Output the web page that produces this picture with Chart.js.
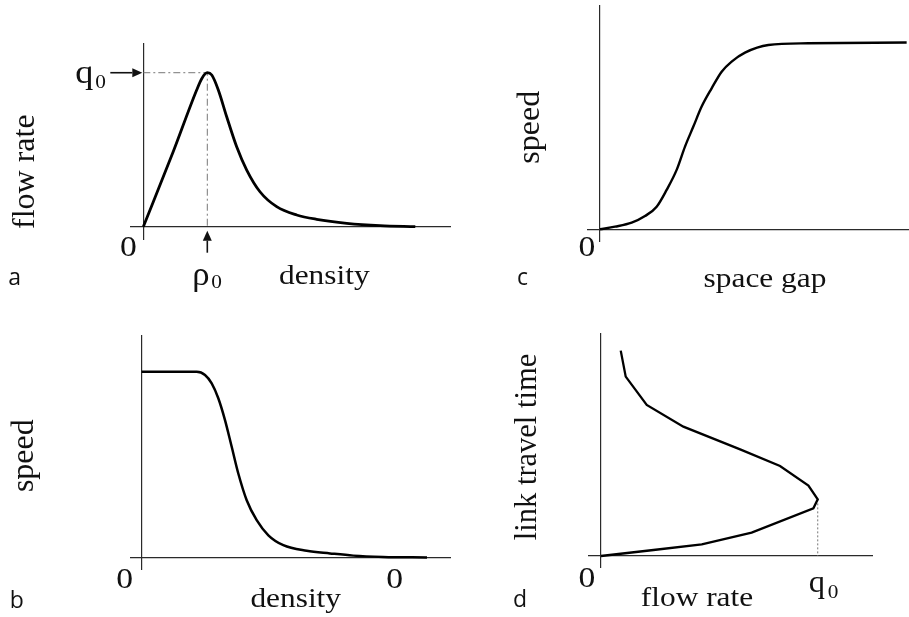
<!DOCTYPE html>
<html>
<head>
<meta charset="utf-8">
<script src="https://cdn.jsdelivr.net/npm/chart.js@4.4.0/dist/chart.umd.min.js"></script>
<style>
  body { margin: 0; background: #fff; }
  #wrap { position: relative; width: 909px; height: 617px; }
  #wrap canvas { position: absolute; left: 0; top: 0; }
</style>
</head>
<body>
<div id="wrap">
  <canvas id="panelA" width="909" height="617"></canvas>
  <canvas id="panelB" width="909" height="617"></canvas>
  <canvas id="panelC" width="909" height="617"></canvas>
  <canvas id="panelD" width="909" height="617"></canvas>
</div>
<script>
// a: flow rate vs density (rho0 = 1, q0 = 1)
const densityA = [0, 0.47, 0.834, 0.915, 1, 1.07, 1.172, 1.303, 1.459, 1.616, 1.823, 2.084, 2.397, 2.709, 3.18, 3.7, 4.25];
const flowA = [0, 0.49, 0.888, 0.963, 1, 0.985, 0.888, 0.714, 0.519, 0.368, 0.227, 0.13, 0.076, 0.048, 0.022, 0.0065, 0];
const rho0 = 1;
const q0 = 1;

// b: speed vs density
const densityB = [0, 1.1, 1.266, 1.4, 1.532, 1.666, 1.8, 1.932, 2.1, 2.3, 2.533, 2.832, 3.3, 3.766, 4.232, 4.826, 5.706];
const speedB = [0.996, 0.996, 0.979, 0.934, 0.854, 0.737, 0.594, 0.451, 0.308, 0.201, 0.12, 0.067, 0.037, 0.023, 0.011, 0.004, 0.001];

// c: speed vs space gap
const gapC = [0, 0.3, 0.633, 0.9, 1.133, 1.333, 1.533, 1.7, 1.867, 2.033, 2.233, 2.433, 2.633, 2.9, 3.367, 4.167, 6.133];
const speedC = [0, 0.014, 0.0355, 0.071, 0.121, 0.211, 0.318, 0.443, 0.55, 0.657, 0.755, 0.844, 0.898, 0.946, 0.987, 0.996, 1.0];

// d: link travel time vs flow rate (q0 = 1)
const flowD = [0, 0.242, 0.465, 0.695, 0.98, 1.0, 0.957, 0.826, 0.642, 0.38, 0.211, 0.114, 0.091];
const timeD = [0, 0.12, 0.233, 0.467, 0.953, 1.133, 1.407, 1.8, 2.133, 2.587, 3.02, 3.587, 4.107];
const q0D = 1;
const timeAtQ0D = 1.133;

const SERIF = "'Liberation Serif', 'Times New Roman', serif";
const SANS = "'Open Sans', 'Noto Sans', sans-serif";

function toPoints(xs, ys) {
  return xs.map((x, i) => ({ x: x, y: ys[i] }));
}

function drawText(ctx, str, x, y, item) {
  ctx.save();
  ctx.translate(x, y);
  ctx.fillStyle = "#111";
  if (item.rot) {
    ctx.rotate(-Math.PI / 2);
    ctx.font = (item.size || 32) + "px " + SERIF;
    ctx.textAlign = "center";
    ctx.textBaseline = "middle";
  } else if (item.sans) {
    ctx.font = "23px " + SANS;
    ctx.textAlign = "left";
    ctx.textBaseline = "alphabetic";
  } else {
    ctx.scale(item.sx || 1.12, 1);
    ctx.font = (item.size || 28) + "px " + SERIF;
    ctx.textAlign = item.align || "left";
    ctx.textBaseline = item.baseline || "alphabetic";
  }
  ctx.fillText(str, 0, 0);
  ctx.restore();
}

function drawArrow(ctx, x1, y1, x2, y2) {
  const ang = Math.atan2(y2 - y1, x2 - x1);
  const head = 10;
  const half = 4.5;
  const c = Math.cos(ang);
  const s = Math.sin(ang);
  ctx.save();
  ctx.strokeStyle = "#111";
  ctx.fillStyle = "#111";
  ctx.lineWidth = 1.6;
  ctx.beginPath();
  ctx.moveTo(x1, y1);
  ctx.lineTo(x2 - head * c, y2 - head * s);
  ctx.stroke();
  ctx.beginPath();
  ctx.moveTo(x2, y2);
  ctx.lineTo(x2 - head * c + half * s, y2 - head * s - half * c);
  ctx.lineTo(x2 - head * c - half * s, y2 - head * s + half * c);
  ctx.closePath();
  ctx.fill();
  ctx.restore();
}

function createPanel(canvasId, cfg) {
  const ctx = document.getElementById(canvasId).getContext("2d");

  const labelPlugin = {
    id: "panelLabels",
    afterDraw(chart) {
      const xs = chart.scales.x;
      const ys = chart.scales.y;
      const c = chart.ctx;
      (cfg.labels || []).forEach((item) => {
        const px = xs.getPixelForValue(item.at[0]) + item.dx;
        const py = ys.getPixelForValue(item.at[1]) + item.dy;
        drawText(c, item.t, px, py, item);
      });
      (cfg.arrows || []).forEach((a) => {
        const px = xs.getPixelForValue(a.at[0]);
        const py = ys.getPixelForValue(a.at[1]);
        drawArrow(c, px + a.x1, py + a.y1, px + a.x2, py + a.y2);
      });
    },
  };

  // only the zero line of each scale is kept, it acts as the axis
  const axisOpts = (range) => ({
    type: "linear",
    min: range[0],
    max: range[1],
    afterBuildTicks: (axis) => {
      axis.ticks = [{ value: 0 }];
    },
    ticks: { display: false },
    border: { display: false },
    grid: { color: "#2a2a2a", lineWidth: 1.2, drawTicks: false },
  });

  const datasets = [
    {
      data: cfg.curve,
      borderColor: "#000",
      borderWidth: cfg.width || 2.5,
      pointRadius: 0,
      fill: false,
      tension: 0,
      cubicInterpolationMode: cfg.smooth ? "monotone" : "default",
    },
  ];
  (cfg.guides || []).forEach((g) => {
    datasets.push({
      data: g.points,
      borderColor: "#777",
      borderWidth: 1,
      borderDash: g.dash,
      pointRadius: 0,
      fill: false,
      tension: 0,
    });
  });

  return new Chart(ctx, {
    type: "line",
    data: { datasets: datasets },
    options: {
      responsive: false,
      animation: false,
      layout: { padding: cfg.padding },
      plugins: { legend: { display: false }, tooltip: { enabled: false } },
      scales: { x: axisOpts(cfg.xRange), y: axisOpts(cfg.yRange) },
    },
    plugins: [labelPlugin],
  });
}

createPanel("panelA", {
  curve: toPoints(densityA, flowA),
  smooth: true,
  width: 2.8,
  padding: { left: 130, right: 458, top: 43, bottom: 377 },
  xRange: [-0.208, 4.808],
  yRange: [-0.0864, 1.193],
  guides: [
    { points: [{ x: 0, y: q0 }, { x: rho0, y: q0 }, { x: rho0, y: 0 }], dash: [7, 3, 2, 3] },
  ],
  labels: [
    { t: "0", at: [0, 0], dx: -15, dy: 21, size: 30, align: "center", baseline: "middle" },
    { t: "density", at: [0, 0], dx: 181, dy: 57, align: "center" },
    { t: "flow rate", at: [0, 0], dx: -118, dy: -55, rot: true },
    { t: "a", at: [0, 0], dx: -135, dy: 58, sans: true },
    { t: "q", at: [0, q0], dx: -68, dy: 10, size: 33, sx: 1.1 },
    { t: "0", at: [0, q0], dx: -48, dy: 15, size: 19 },
    { t: "ρ", at: [rho0, 0], dx: -15, dy: 58, size: 33, sx: 1.05 },
    { t: "0", at: [rho0, 0], dx: 4, dy: 61, size: 19 },
  ],
  arrows: [
    { at: [0, q0], x1: -33, y1: 0, x2: -1, y2: 0 },
    { at: [rho0, 0], x1: 0, y1: 26, x2: 0, y2: 4 },
  ],
});

createPanel("panelB", {
  curve: toPoints(densityB, speedB),
  smooth: true,
  width: 2.5,
  padding: { left: 130, right: 458, top: 335, bottom: 47 },
  xRange: [-0.234, 6.186],
  yRange: [-0.066, 1.193],
  labels: [
    { t: "0", at: [0, 0], dx: -17, dy: 22, size: 30, align: "center", baseline: "middle" },
    { t: "0", at: [0, 0], dx: 253, dy: 22, size: 30, align: "center", baseline: "middle" },
    { t: "density", at: [0, 0], dx: 154, dy: 49, align: "center" },
    { t: "speed", at: [0, 0], dx: -117, dy: -102, rot: true },
    { t: "b", at: [0, 0], dx: -132, dy: 50, sans: true },
  ],
});

createPanel("panelC", {
  curve: toPoints(gapC, speedC),
  smooth: true,
  width: 2.4,
  padding: { left: 587, right: 0, top: 5, bottom: 375 },
  xRange: [-0.26, 6.18],
  yRange: [-0.068, 1.201],
  labels: [
    { t: "0", at: [0, 0], dx: -13, dy: 19, size: 30, align: "center", baseline: "middle" },
    { t: "space gap", at: [0, 0], dx: 165, dy: 58, align: "center" },
    { t: "speed", at: [0, 0], dx: -69, dy: -102, rot: true },
    { t: "c", at: [0, 0], dx: -83, dy: 56, sans: true },
  ],
});

createPanel("panelD", {
  curve: toPoints(flowD, timeD),
  smooth: false,
  width: 2.3,
  padding: { left: 588, right: 36, top: 333, bottom: 49 },
  xRange: [-0.06, 1.255],
  yRange: [-0.24, 4.46],
  guides: [
    { points: [{ x: q0D, y: timeAtQ0D }, { x: q0D, y: 0 }], dash: [2, 2] },
  ],
  labels: [
    { t: "0", at: [0, 0], dx: -14, dy: 23, size: 30, align: "center", baseline: "middle" },
    { t: "flow rate", at: [0, 0], dx: 96, dy: 50, align: "center" },
    { t: "link travel time", at: [0, 0], dx: -73, dy: -109, rot: true, size: 30.5 },
    { t: "d", at: [0, 0], dx: -88, dy: 51, sans: true },
    { t: "q", at: [q0D, 0], dx: -9, dy: 36, size: 31, sx: 1.05 },
    { t: "0", at: [q0D, 0], dx: 10, dy: 42, size: 19 },
  ],
});
</script>
</body>
</html>
